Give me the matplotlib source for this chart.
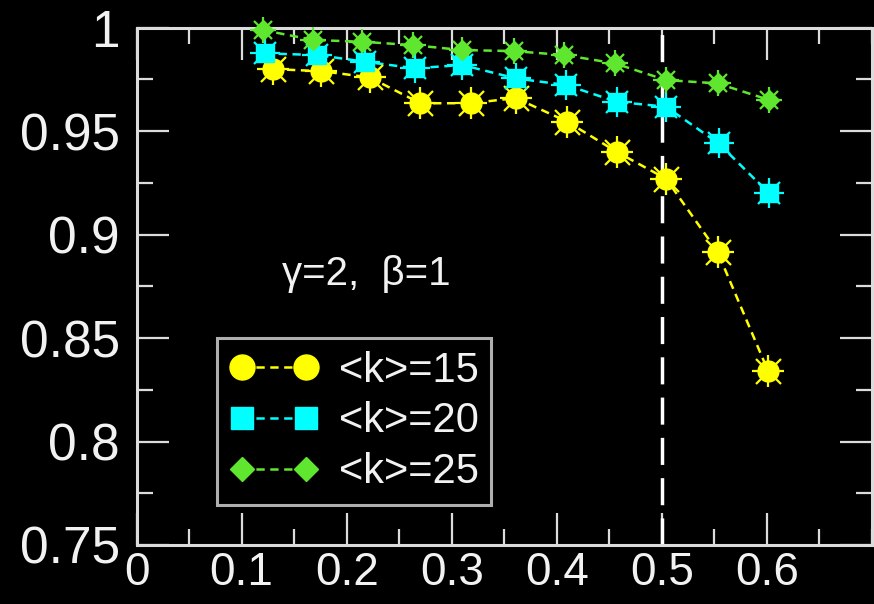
import numpy as np
import matplotlib
matplotlib.use('Agg')
import matplotlib.pyplot as plt
from matplotlib.lines import Line2D
from matplotlib.ticker import MultipleLocator, FuncFormatter

# data
x_k15 = [0.130, 0.176, 0.222, 0.270, 0.318, 0.361, 0.410, 0.457, 0.504, 0.553, 0.601]
y_k15 = [0.980, 0.979, 0.976, 0.9635, 0.9635, 0.966, 0.9546, 0.940, 0.927, 0.8917, 0.8342]

x_k20 = [0.122, 0.172, 0.217, 0.265, 0.310, 0.361, 0.409, 0.457, 0.504, 0.554, 0.602]
y_k20 = [0.9876, 0.9868, 0.9836, 0.9804, 0.982, 0.9755, 0.9723, 0.9642, 0.9618, 0.9441, 0.920]

x_k25 = [0.120, 0.168, 0.215, 0.263, 0.310, 0.359, 0.407, 0.455, 0.504, 0.553, 0.602]
y_k25 = [0.9989, 0.9941, 0.9932, 0.9916, 0.9892, 0.9887, 0.9868, 0.9828, 0.9747, 0.9731, 0.9651]

labels = ['<k>=15', '<k>=20', '<k>=25']
x_crit = 0.5

plt.rcParams['font.family'] = ['Liberation Sans', 'DejaVu Sans']
plt.rcParams['lines.scale_dashes'] = False

fg = '#dcdcdc'
txt = '#f2f2f2'

fig = plt.figure(figsize=(8.74, 6.04), dpi=100, facecolor='black')
ax = fig.add_axes([0.1562, 0.0977, 0.8415, 0.8564], facecolor='black')

# colour, marker, size in plot, size in legend
series = [
    (x_k15, y_k15, '#ffff00', 'o', 15, 18),
    (x_k20, y_k20, '#00ffff', 's', 13.5, 16),
    (x_k25, y_k25, '#5fe62e', 'D', 10.5, 12.5),
]

handles = []
for (xs, ys, c, m, ms, ms_leg), lab in zip(series, labels):
    ax.plot(xs, ys, color=c, lw=1.8, dashes=(6, 4), zorder=3)
    # the glowing little spikes round each symbol
    ax.plot(xs, ys, ls='none', marker='+', ms=ms + 8, mew=1.6, color=c, zorder=4, clip_on=False)
    ax.plot(xs, ys, ls='none', marker='x', ms=ms + 3, mew=1.6, color=c, zorder=4, clip_on=False)
    ax.plot(xs, ys, ls='none', marker=m, ms=ms, mfc=c, mec=c, zorder=5, clip_on=False)
    handles.append(Line2D([], [], color=c, lw=1.8, dashes=(6, 4), marker=m, ms=ms_leg, mfc=c, mec=c))

ax.axvline(x_crit, color='white', lw=2.5, dashes=(19.5, 9.5), zorder=2)

ax.text(0.219, 0.881, '\u03b3=2,  \u03b2=1', color=txt, fontsize=29, ha='center', va='center')

leg = ax.legend(handles, labels, loc='upper left', bbox_to_anchor=(0.11, 0.40),
                borderaxespad=0, fontsize=30, numpoints=2, handlelength=2.13,
                handletextpad=0.48, labelspacing=0.26, borderpad=0.3,
                frameon=True, fancybox=False, facecolor='black', edgecolor=fg)
leg.get_frame().set_linewidth(2.2)
for t in leg.get_texts():
    t.set_color(txt)

ax.set_xlim(0, 0.7)
ax.set_ylim(0.75, 1.0)
ax.xaxis.set_major_locator(MultipleLocator(0.1))
ax.xaxis.set_minor_locator(MultipleLocator(0.05))
ax.yaxis.set_major_locator(MultipleLocator(0.05))
ax.yaxis.set_minor_locator(MultipleLocator(0.025))
fmt = FuncFormatter(lambda v, p: '%g' % round(v, 3))
ax.xaxis.set_major_formatter(fmt)
ax.yaxis.set_major_formatter(fmt)
ax.set_xticks([0, 0.1, 0.2, 0.3, 0.4, 0.5, 0.6])

ax.tick_params(which='both', direction='in', top=True, right=True, colors=fg, width=1.6)
ax.tick_params(which='major', length=23, labelcolor=txt)
ax.tick_params(axis='y', which='major', labelsize=37, pad=12)
ax.tick_params(axis='x', which='major', labelsize=33, pad=4)
ax.tick_params(which='minor', length=11.5)
for s in ax.spines.values():
    s.set_color(fg)
    s.set_linewidth(2.2)

fig.savefig('out.png', dpi=100, facecolor='black')
